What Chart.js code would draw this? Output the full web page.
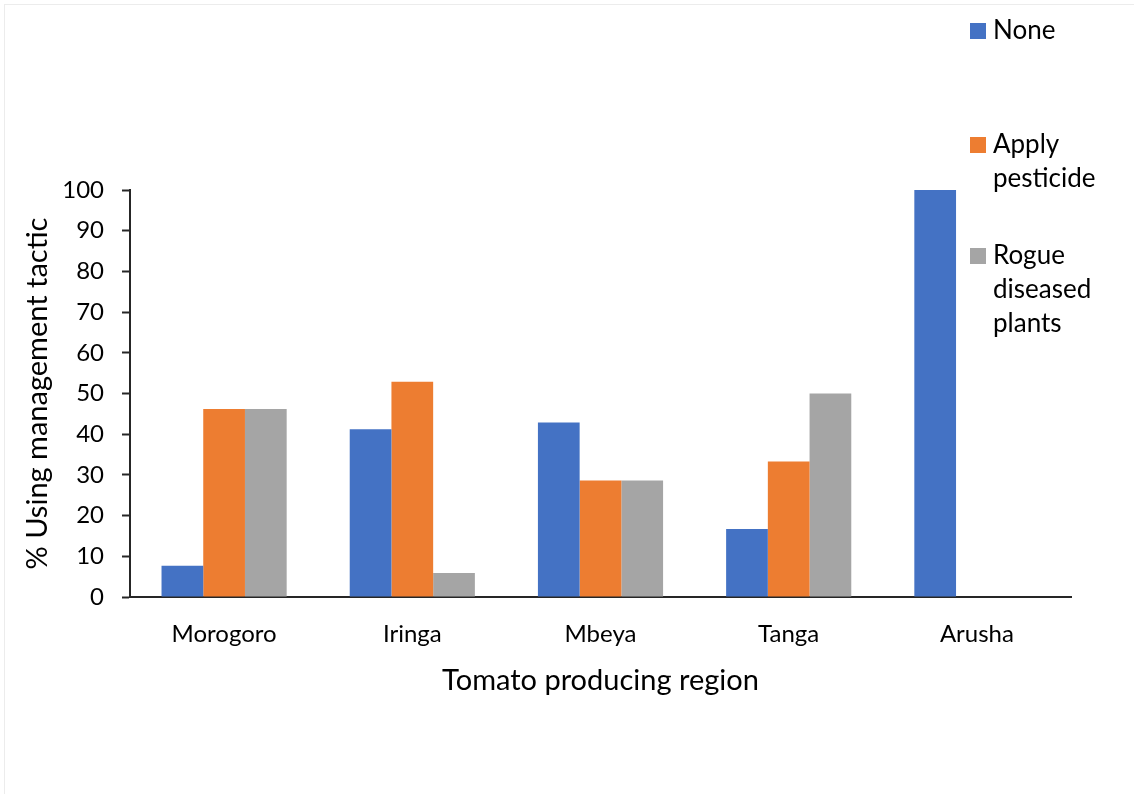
<!DOCTYPE html>
<html>
<head>
<meta charset="utf-8">
<script src="https://cdn.jsdelivr.net/npm/chart.js@4"></script>
<style>
  html, body { margin: 0; padding: 0; background: #fff; }
  #wrap { position: relative; width: 1134px; height: 794px; }
  #frame { position: absolute; left: 4px; top: 4px; right: 0; bottom: 0;
           border-top: 1px solid #ececec; border-left: 1px solid #ececec; pointer-events: none; }
  canvas { position: absolute; left: 0; top: 0; }
</style>
</head>
<body>
<div id="wrap">
  <canvas id="chart" width="1134" height="794"></canvas>
  <div id="frame"></div>
</div>
<script>
// regions and % of farmers using each tactic
const regions = ["Morogoro", "Iringa", "Mbeya", "Tanga", "Arusha"];
const noneVals = [7.7, 41.2, 42.9, 16.7, 100];
const pesticideVals = [46.2, 52.9, 28.6, 33.3, 0];
const rogueVals = [46.2, 5.9, 28.6, 50, 0];
const seriesNames = [["None"], ["Apply", "pesticide"], ["Rogue", "diseased", "plants"]];
const seriesColors = ["#4472C4", "#ED7D31", "#A5A5A5"];
const yTicks = [0, 10, 20, 30, 40, 50, 60, 70, 80, 90, 100];

const FONT = "Lato, 'Open Sans', sans-serif";

// legend on the right, one wrapped block per series
const sideLegend = {
  id: 'sideLegend',
  afterDraw(chart) {
    const ctx = chart.ctx;
    const tops = [23, 137, 248];
    ctx.save();
    ctx.font = "26px " + FONT;
    ctx.textBaseline = "middle";
    seriesNames.forEach((lines, i) => {
      ctx.fillStyle = seriesColors[i];
      ctx.fillRect(970, tops[i], 16, 16);
      ctx.fillStyle = "#000";
      lines.forEach((ln, j) => ctx.fillText(ln, 993, tops[i] + 8 + j * 34));
    });
    ctx.restore();
  }
};

new Chart(document.getElementById('chart'), {
  type: 'bar',
  data: {
    labels: regions,
    datasets: [
      { label: "None", data: noneVals, backgroundColor: seriesColors[0] },
      { label: "Apply pesticide", data: pesticideVals, backgroundColor: seriesColors[1] },
      { label: "Rogue diseased plants", data: rogueVals, backgroundColor: seriesColors[2] }
    ]
  },
  options: {
    responsive: false,
    animation: false,
    layout: { padding: { left: 8, right: 63, top: 190, bottom: 87 } },
    datasets: { bar: { barPercentage: 1, categoryPercentage: 0.665 } },
    plugins: { legend: { display: false }, tooltip: { enabled: false } },
    scales: {
      x: {
        afterFit(scale) { scale.height = 110; },
        grid: { display: false, drawTicks: false },
        border: { display: true, color: "#262626", width: 2 },
        ticks: { color: "#000", font: { family: FONT, size: 24 }, padding: 23 },
        title: { display: true, text: "Tomato producing region", color: "#000",
                 font: { family: FONT, size: 29 }, padding: { top: 4, bottom: 9 } }
      },
      y: {
        min: 0, max: 100,
        afterFit(scale) { scale.width = 122; },
        afterBuildTicks(scale) { scale.ticks = yTicks.map(v => ({ value: v })); },
        grid: { drawOnChartArea: false, drawTicks: true, tickLength: 8, tickColor: "#262626", tickWidth: 2 },
        border: { display: true, color: "#262626", width: 2 },
        ticks: { color: "#000", font: { family: FONT, size: 24 }, padding: 18 },
        title: { display: true, text: "% Using management tactic", color: "#000",
                 font: { family: FONT, size: 29 }, padding: { top: 12, bottom: 4 } }
      }
    }
  },
  plugins: [sideLegend]
});
</script>
</body>
</html>
